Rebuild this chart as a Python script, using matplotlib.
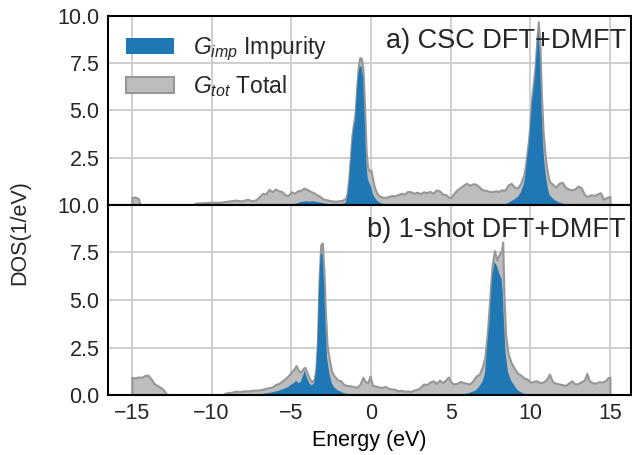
import matplotlib
matplotlib.use('Agg')
import matplotlib.pyplot as plt

# panel a) CSC DFT+DMFT : energy (eV), total DOS, impurity DOS
energy_a = [-15.0, -14.8, -14.6, -14.5, -14.4, -11.2, -11.0, -10.5, -10.0, -9.5, -9.0, -8.5, -8.2, -8.0,
            -7.7, -7.5, -7.2, -7.0, -6.8, -6.6, -6.4, -6.2, -6.0, -5.8, -5.6, -5.4, -5.2, -5.0, -4.8,
            -4.6, -4.4, -4.2, -4.0, -3.8, -3.6, -3.4, -3.2, -3.0, -2.8, -2.5, -2.2, -2.0, -1.8, -1.6,
            -1.5, -1.4, -1.3, -1.2, -1.1, -1.0, -0.9, -0.8, -0.7, -0.6, -0.5, -0.4, -0.3, -0.2, -0.1,
            0.0, 0.1, 0.2, 0.35, 0.5, 0.7, 0.9, 1.1, 1.3, 1.5, 1.7, 1.9, 2.1, 2.3, 2.5, 2.7, 2.9, 3.1,
            3.3, 3.5, 3.7, 3.9, 4.1, 4.3, 4.5, 4.7, 4.9, 5.0, 5.2, 5.4, 5.6, 5.8, 6.0, 6.2, 6.4, 6.6,
            6.8, 7.0, 7.2, 7.4, 7.6, 7.8, 8.0, 8.2, 8.4, 8.6, 8.8, 9.0, 9.2, 9.4, 9.6, 9.7, 9.8, 9.9,
            10.0, 10.1, 10.2, 10.3, 10.4, 10.5, 10.6, 10.7, 10.8, 10.9, 11.0, 11.1, 11.2, 11.4, 11.6,
            11.8, 12.0, 12.2, 12.4, 12.6, 12.8, 13.0, 13.2, 13.4, 13.6, 13.8, 14.0, 14.2, 14.4, 14.6,
            14.8, 15.0]
total_a = [0.40, 0.42, 0.35, 0.05, 0.0, 0.0, 0.10, 0.12, 0.15, 0.14, 0.20, 0.26, 0.22, 0.25,
           0.30, 0.22, 0.28, 0.45, 0.62, 0.58, 0.83, 0.70, 0.85, 0.75, 0.72, 0.55, 0.50, 0.70, 0.62,
           0.75, 0.78, 0.90, 0.82, 0.72, 0.65, 0.55, 0.45, 0.32, 0.28, 0.22, 0.20, 0.22, 0.25, 0.35,
           0.60, 1.30, 2.40, 3.60, 4.30, 4.80, 6.10, 7.30, 7.80, 7.75, 7.20, 5.20, 2.80, 1.95, 1.80,
           1.85, 1.40, 1.00, 0.65, 0.50, 0.42, 0.40, 0.45, 0.50, 0.48, 0.55, 0.62, 0.58, 0.72, 0.70,
           0.62, 0.68, 0.60, 0.70, 0.65, 0.72, 0.62, 0.80, 0.75, 0.58, 0.55, 0.40, 0.38, 0.62, 0.80,
           0.92, 1.05, 1.15, 1.05, 1.12, 1.10, 0.95, 0.80, 0.78, 0.72, 0.70, 0.75, 0.72, 0.80, 0.78,
           1.05, 1.15, 0.95, 0.90, 1.15, 1.60, 2.10, 2.80, 3.50, 4.50, 5.80, 6.50, 7.30, 8.60, 9.70,
           8.60, 5.80, 3.90, 2.90, 2.10, 1.60, 1.25, 1.10, 0.95, 1.15, 1.20, 0.95, 0.85, 0.80, 0.85,
           1.00, 0.90, 0.55, 0.45, 0.55, 0.50, 0.58, 0.65, 0.30, 0.40, 0.45]
imp_a = [0.0, 0.0, 0.0, 0.0, 0.0, 0.0, 0.0, 0.0, 0.0, 0.0, 0.0, 0.0, 0.0, 0.0,
         0.0, 0.0, 0.0, 0.0, 0.0, 0.0, 0.0, 0.0, 0.0, 0.0, 0.0, 0.0, 0.0, 0.02, 0.05,
         0.10, 0.15, 0.18, 0.20, 0.18, 0.20, 0.16, 0.14, 0.10, 0.06, 0.04, 0.04, 0.05, 0.06, 0.10,
         0.35, 1.00, 2.00, 3.20, 4.00, 4.40, 5.70, 6.90, 7.30, 7.35, 6.80, 4.70, 2.30, 1.40, 1.15,
         1.00, 0.65, 0.45, 0.26, 0.15, 0.08, 0.04, 0.02, 0.0, 0.0, 0.0, 0.0, 0.0, 0.0, 0.0,
         0.0, 0.0, 0.0, 0.0, 0.0, 0.0, 0.0, 0.0, 0.0, 0.0, 0.0, 0.0, 0.0, 0.0, 0.0,
         0.0, 0.0, 0.0, 0.0, 0.0, 0.0, 0.0, 0.0, 0.0, 0.0, 0.0, 0.0, 0.0, 0.0, 0.04,
         0.10, 0.20, 0.30, 0.42, 0.65, 1.10, 1.60, 2.40, 3.10, 4.10, 5.40, 6.00, 6.80, 8.10, 9.20,
         8.00, 5.20, 3.20, 2.10, 1.40, 0.90, 0.55, 0.35, 0.22, 0.14, 0.08, 0.05, 0.02, 0.0, 0.0,
         0.0, 0.0, 0.0, 0.0, 0.0, 0.0, 0.0, 0.0, 0.0, 0.0, 0.0]

# panel b) 1-shot DFT+DMFT
energy_b = [-15.0, -14.8, -14.6, -14.4, -14.2, -14.0, -13.8, -13.6, -13.4, -13.2, -13.0, -12.85, -12.7,
            -9.3, -9.2, -9.0, -8.7, -8.5, -8.2, -8.0, -7.7, -7.4, -7.1, -6.8, -6.5, -6.2, -6.0, -5.8,
            -5.6, -5.4, -5.2, -5.0, -4.8, -4.7, -4.55, -4.4, -4.25, -4.15, -4.0, -3.85, -3.7, -3.55,
            -3.45, -3.35, -3.25, -3.15, -3.05, -2.95, -2.85, -2.75, -2.6, -2.45, -2.3, -2.1, -1.9,
            -1.7, -1.5, -1.3, -1.1, -0.9, -0.7, -0.5, -0.35, -0.2, -0.05, 0.1, 0.3, 0.5, 0.7, 0.9,
            1.1, 1.3, 1.5, 1.7, 1.9, 2.1, 2.3, 2.5, 2.7, 2.9, 3.1, 3.3, 3.5, 3.7, 3.9, 4.1, 4.3, 4.5,
            4.7, 4.85, 5.0, 5.2, 5.4, 5.6, 5.8, 6.0, 6.2, 6.4, 6.6, 6.8, 7.0, 7.15, 7.3, 7.45, 7.6,
            7.75, 7.9, 8.05, 8.2, 8.27, 8.35, 8.45, 8.6, 8.8, 9.0, 9.2, 9.4, 9.6, 9.8, 10.0, 10.2,
            10.4, 10.6, 10.8, 11.0, 11.2, 11.4, 11.6, 11.8, 12.0, 12.2, 12.4, 12.6, 12.8, 13.0, 13.2,
            13.4, 13.55, 13.7, 13.9, 14.1, 14.3, 14.5, 14.7, 14.9, 15.0]
total_b = [0.93, 0.90, 0.95, 0.93, 1.02, 1.05, 0.85, 0.60, 0.50, 0.40, 0.25, 0.08, 0.0,
           0.0, 0.08, 0.12, 0.15, 0.20, 0.18, 0.22, 0.22, 0.25, 0.26, 0.30, 0.37, 0.42, 0.55, 0.60,
           0.72, 0.85, 1.00, 1.20, 1.40, 1.55, 1.30, 1.20, 1.40, 1.46, 1.15, 0.85, 0.70, 0.85,
           1.40, 3.00, 6.20, 7.90, 8.00, 6.50, 4.20, 2.60, 1.80, 1.20, 1.00, 0.80, 0.75,
           0.55, 0.50, 0.48, 0.45, 0.40, 0.55, 0.93, 0.70, 0.65, 1.00, 0.50, 0.48, 0.42, 0.40, 0.45,
           0.35, 0.32, 0.30, 0.22, 0.25, 0.20, 0.22, 0.18, 0.26, 0.30, 0.40, 0.58, 0.55, 0.68, 0.75,
           0.62, 0.78, 0.65, 0.80, 0.95, 0.70, 0.58, 0.62, 0.72, 0.65, 0.62, 0.58, 0.75, 1.00, 1.10,
           1.50, 2.00, 3.20, 5.00, 6.80, 7.60, 7.10, 7.40, 7.60, 8.05, 5.20, 3.20, 2.20, 1.70, 1.40,
           1.15, 1.05, 0.90, 0.84, 0.67, 0.72, 0.75, 0.65, 0.68, 0.80, 1.10, 0.70, 0.62, 0.58, 0.55,
           0.50, 0.62, 0.75, 0.58, 0.60, 0.70, 0.80, 1.14, 0.75, 0.65, 0.62, 0.70, 0.68, 0.75, 0.93,
           0.93]
imp_b = [0.0, 0.0, 0.0, 0.0, 0.0, 0.0, 0.0, 0.0, 0.0, 0.0, 0.0, 0.0, 0.0,
         0.0, 0.0, 0.0, 0.0, 0.0, 0.0, 0.0, 0.0, 0.02, 0.04, 0.06, 0.10, 0.14, 0.18, 0.22,
         0.28, 0.35, 0.42, 0.55, 0.65, 0.75, 0.62, 0.70, 1.05, 1.28, 0.85, 0.60, 0.50, 0.65,
         1.20, 2.70, 5.80, 7.40, 7.45, 6.00, 3.60, 1.90, 1.10, 0.60, 0.40, 0.25, 0.18,
         0.10, 0.06, 0.04, 0.02, 0.0, 0.0, 0.0, 0.0, 0.0, 0.0, 0.0, 0.0, 0.0, 0.0, 0.0,
         0.0, 0.0, 0.0, 0.0, 0.0, 0.0, 0.0, 0.0, 0.0, 0.0, 0.0, 0.0, 0.0, 0.0, 0.0,
         0.0, 0.0, 0.0, 0.0, 0.0, 0.0, 0.0, 0.0, 0.02, 0.04, 0.07, 0.12, 0.18, 0.25, 0.45,
         0.70, 1.10, 2.60, 4.00, 6.10, 7.00, 6.80, 6.40, 6.10, 5.40, 3.80, 2.20, 1.20, 0.75, 0.50,
         0.25, 0.15, 0.07, 0.03, 0.0, 0.0, 0.0, 0.0, 0.0, 0.0, 0.0, 0.0, 0.0, 0.0, 0.0,
         0.0, 0.0, 0.0, 0.0, 0.0, 0.0, 0.0, 0.0, 0.0, 0.0, 0.0, 0.0, 0.0, 0.0, 0.0,
         0.0]

panel_labels = ['a) CSC DFT+DMFT', 'b) 1-shot DFT+DMFT']
x_ticks = [-15, -10, -5, 0, 5, 10, 15]
y_ticks = [0.0, 2.5, 5.0, 7.5, 10.0]

plt.rcParams['font.family'] = ['Liberation Sans', 'DejaVu Sans']
plt.rcParams['mathtext.fontset'] = 'custom'
plt.rcParams['mathtext.rm'] = 'Liberation Sans'
plt.rcParams['mathtext.it'] = 'Liberation Sans:italic'
plt.rcParams['text.color'] = '#262626'
plt.rcParams['xtick.color'] = '#262626'
plt.rcParams['ytick.color'] = '#262626'

fig = plt.figure(figsize=(6.32, 4.55), dpi=100)
left, right = 108 / 632, 631 / 632
ax_a = fig.add_axes([left, 1 - 205 / 455, right - left, 189 / 455])
ax_b = fig.add_axes([left, 1 - 395 / 455, right - left, 190 / 455], sharex=ax_a)

data = [(ax_a, energy_a, total_a, imp_a), (ax_b, energy_b, total_b, imp_b)]
for (ax, e, tot, imp), lab in zip(data, panel_labels):
    ax.fill_between(e, 0, tot, facecolor='#bdbdbd', edgecolor='#979797', lw=1.5,
                    label=r'$G_{tot}$ Total', zorder=2)
    ax.fill_between(e, 0, imp, facecolor='#1f77b4', edgecolor='none', lw=0,
                    label=r'$G_{imp}$ Impurity', zorder=3)
    ax.set_xlim(-16.5, 16.32)
    ax.set_ylim(0, 10)
    ax.set_xticks(x_ticks)
    ax.grid(True, color='#cccccc', lw=1.3, zorder=0)
    ax.set_axisbelow(True)
    ax.tick_params(length=0, labelsize=15.5, pad=6)
    for sp in ax.spines.values():
        sp.set_color('black')
        sp.set_linewidth(1.5)
        sp.set_zorder(5)
    ax.text(0.99, 0.935, lab, transform=ax.transAxes, ha='right', va='top',
            fontsize=19.5, zorder=6)

ax_a.set_yticks(y_ticks)
ax_a.set_yticklabels(['' if v == 0 else f'{v:.1f}' for v in y_ticks])
ax_b.set_yticks(y_ticks)
ax_b.set_yticklabels([f'{v:.1f}' for v in y_ticks])
ax_a.tick_params(labelbottom=False)

handles, labels = ax_a.get_legend_handles_labels()
ax_a.legend(handles[::-1], labels[::-1], loc='upper left', frameon=False, fontsize=16.5,
            handlelength=2.1, handletextpad=0.8, labelspacing=0.45, borderaxespad=0.4)

ax_b.set_xlabel('Energy (eV)', fontsize=15.5, labelpad=4)
fig.text(0.032, 1 - 233 / 455, 'DOS(1/eV)', rotation=90, ha='center', va='center', fontsize=15.5)

fig.savefig('out.png', dpi=100)
